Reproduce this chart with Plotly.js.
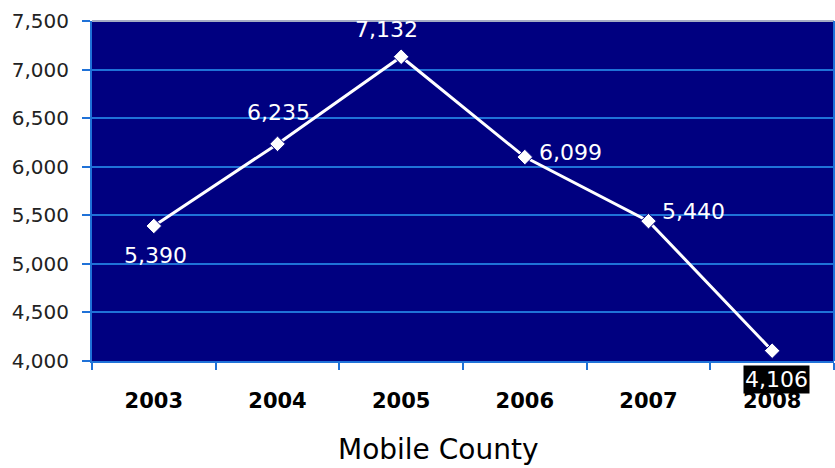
<!DOCTYPE html>
<html>
<head>
<meta charset="utf-8">
<script src="https://cdn.plot.ly/plotly-3.0.1.min.js"></script>
<style>html,body{margin:0;padding:0;background:#fff;}#chart{width:835px;height:468px;}</style>
</head>
<body>
<div id="chart"></div>
<script>
const years = ["2003", "2004", "2005", "2006", "2007", "2008"];
const values = [5390, 6235, 7132, 6099, 5440, 4106];
const yTicks = [4000, 4500, 5000, 5500, 6000, 6500, 7000, 7500];
const xTitle = "Mobile County";
const labelOffsets = [[2, -30], [1, 31], [-15, 27], [46, 5], [45, 10], [4, -29]];
const labelBg = ["rgba(0,0,0,0)", "rgba(0,0,0,0)", "rgba(0,0,0,0)", "rgba(0,0,0,0)", "rgba(0,0,0,0)", "#000000"];

const fmt = v => String(v).replace(/\B(?=(\d{3})+(?!\d))/g, ",");
const blue = "#1f72d8";

const trace = {
  x: years, y: values, type: "scatter", mode: "lines+markers",
  line: {color: "#ffffff", width: 3},
  marker: {symbol: "diamond", size: 12, color: "#ffffff", line: {color: "#000080", width: 1}},
  hoverinfo: "skip", cliponaxis: false
};

const annotations = years.map((yr, i) => ({
  x: i, y: values[i], xref: "x", yref: "y", text: fmt(values[i]), showarrow: false,
  xshift: labelOffsets[i][0], yshift: labelOffsets[i][1],
  font: {family: "DejaVu Sans", size: 22, color: "#ffffff"},
  bgcolor: labelBg[i], borderpad: 1
}));
const plotL = 92, plotR = 834, plotT = 21, plotB = 361;
annotations.push({
  x: (438 - plotL) / (plotR - plotL), y: (plotB - 449) / (plotB - plotT),
  xref: "paper", yref: "paper", yanchor: "middle", text: xTitle, showarrow: false,
  font: {family: "DejaVu Sans", size: 28, color: "#000000"}
});

const layout = {
  width: 835, height: 468,
  margin: {l: 92, r: 1, t: 21, b: 107},
  paper_bgcolor: "#ffffff", plot_bgcolor: "#000080",
  showlegend: false,
  xaxis: {
    type: "category", range: [-0.5, 5.5], tickson: "boundaries",
    ticks: "outside", ticklen: 7, tickwidth: 2, tickcolor: blue,
    showline: true, linecolor: blue, linewidth: 2, showgrid: false,
    ticklabelstandoff: 20,
    tickfont: {family: "DejaVu Sans", size: 21, color: "#000000", weight: "bold"}
  },
  yaxis: {
    range: [4000, 7500], tickvals: yTicks, ticktext: yTicks.map(fmt),
    ticks: "outside", ticklen: 8, tickwidth: 2, tickcolor: blue,
    showline: true, linecolor: blue, linewidth: 2,
    showgrid: true, gridcolor: blue, gridwidth: 2, zeroline: false,
    ticklabelstandoff: 9,
    tickfont: {family: "DejaVu Sans", size: 20, color: "#222222"}
  },
  shapes: [
    {type: "line", xref: "paper", yref: "paper", x0: 0, x1: 1, y0: 1, y1: 1, line: {color: "#a4acc4", width: 2}},
    {type: "line", xref: "paper", yref: "paper", x0: 1, x1: 1, y0: 0, y1: 1, line: {color: blue, width: 2}}
  ],
  annotations: annotations
};

Plotly.newPlot("chart", [trace], layout, {staticPlot: true});
</script>
</body>
</html>
